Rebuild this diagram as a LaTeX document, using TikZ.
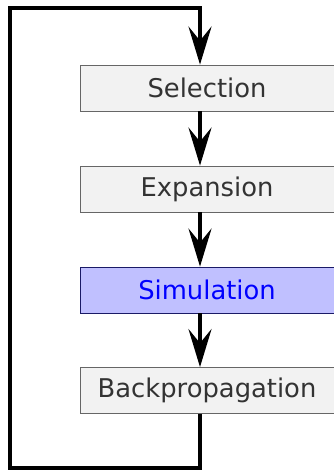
\documentclass[tikz,border=0pt]{standalone}
\usepackage{fontspec}
\setmainfont{DejaVu Sans}
\usetikzlibrary{arrows.meta}
\definecolor{boxfill}{HTML}{F2F2F2}
\definecolor{boxline}{HTML}{666666}
\definecolor{txt}{HTML}{333333}
\definecolor{simfill}{HTML}{C0C0FF}
\definecolor{simline}{HTML}{1A1A66}
\tikzset{
  x=1pt, y=-1pt,
  stage/.style={draw=boxline, fill=boxfill, text=txt, line width=0.8pt,
    minimum width=254pt, minimum height=46pt, inner sep=0pt,
    font=\fontsize{25.8}{30}\selectfont},
  active/.style={stage, draw=simline, fill=simfill, text=blue},
  flow/.style={line width=4pt, line join=miter, -{Stealth[length=38pt, width=23pt, inset=14pt]}},
}
\begin{document}
\begin{tikzpicture}
  \useasboundingbox (0,0) rectangle (333,471);
  \node[stage]  (sel) at (207,88)  {Selection};
  \node[stage]  (exp) at (207,189) {Expansion};
  \node[active] (sim) at (207,290) {Simulation};
  \node[stage]  (bp)  at (207,390.5) {Backpropagation};
  \coordinate (c1) at (200,468);
  \coordinate (c2) at (10,468);
  \coordinate (c3) at (10,8);
  \coordinate (c4) at (200,8);
  \draw[flow] (sel.south -| c1) -- (exp.north -| c1);
  \draw[flow] (exp.south -| c1) -- (sim.north -| c1);
  \draw[flow] (sim.south -| c1) -- (bp.north -| c1);
  % feedback loop from the last stage back to the first
  \draw[flow] (bp.south -| c1) -- (c1) -- (c2) -- (c3) -- (c4) -- (sel.north -| c1);
\end{tikzpicture}
\end{document}
